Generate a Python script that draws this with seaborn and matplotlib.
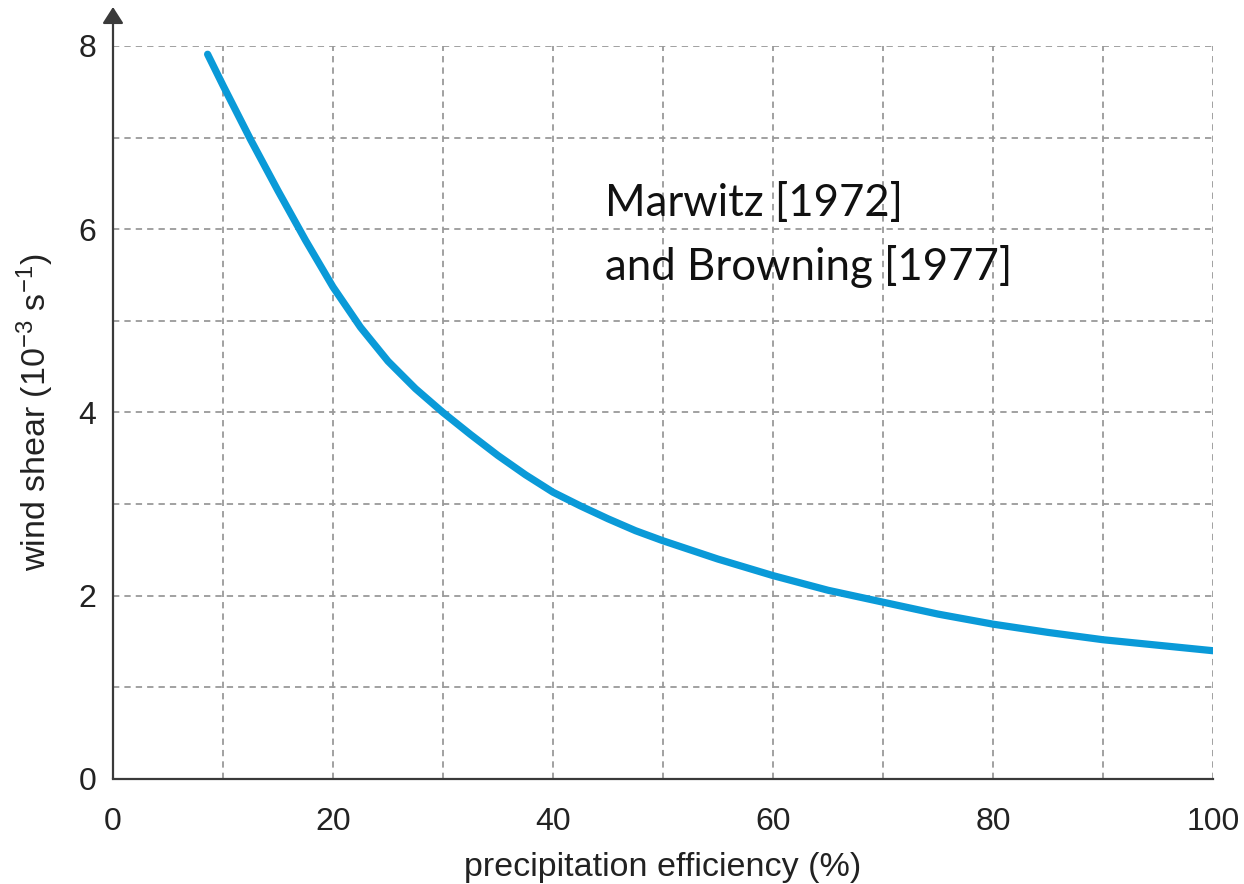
import matplotlib
matplotlib.use("Agg")
import matplotlib.pyplot as plt
from matplotlib.ticker import MultipleLocator
import seaborn as sns
import pandas as pd

# Precipitation efficiency (%) and the corresponding wind shear (10^-3 s^-1)
efficiency = [8.6, 10, 12.5, 15, 17.5, 20, 22.5, 25, 27.5, 30, 32.5, 35, 37.5, 40,
              42.5, 45, 47.5, 50, 52.5, 55, 57.5, 60, 65, 70, 75, 80, 85, 90, 95, 100]
wind_shear = [7.91, 7.57, 6.98, 6.42, 5.88, 5.37, 4.93, 4.56, 4.26, 4.00, 3.76, 3.53, 3.32, 3.13,
              2.98, 2.84, 2.71, 2.60, 2.50, 2.40, 2.31, 2.22, 2.06, 1.93, 1.80, 1.69, 1.60,
              1.52, 1.46, 1.40]

x_major = [0, 20, 40, 60, 80, 100]
y_major = [0, 2, 4, 6, 8]
source_lines = ["Marwitz [1972]", "and Browning [1977]"]

sns.set_theme(style="white")
plt.rcParams["font.family"] = ["Liberation Sans", "DejaVu Sans"]
plt.rcParams["mathtext.fontset"] = "custom"
plt.rcParams["mathtext.rm"] = "Liberation Sans"
plt.rcParams["mathtext.it"] = "Liberation Sans"

df = pd.DataFrame({"efficiency": efficiency, "wind_shear": wind_shear})

fig = plt.figure(figsize=(12.44, 8.84), dpi=100)
ax = fig.add_axes([113 / 1244, 105 / 884, 1100 / 1244, 733 / 884])

axis_col = "#3a3a3a"
grid_col = "#9a9a9a"

# dashed grid at every 10 % and every 1 unit of shear
ax.xaxis.set_major_locator(MultipleLocator(20))
ax.xaxis.set_minor_locator(MultipleLocator(10))
ax.yaxis.set_major_locator(MultipleLocator(2))
ax.yaxis.set_minor_locator(MultipleLocator(1))
ax.grid(True, which="both", color=grid_col, linestyle=(0, (3.5, 2.8)), linewidth=1.3)
ax.set_axisbelow(True)

sns.lineplot(data=df, x="efficiency", y="wind_shear", ax=ax, color="#0a9ad8",
             linewidth=5.2, solid_capstyle="round", solid_joinstyle="round", zorder=3)

ax.set_xlim(0, 100)
ax.set_ylim(0, 8)
ax.set_xticks(x_major)
ax.set_yticks(y_major)
ax.set_xticklabels([str(v) for v in x_major])
ax.set_yticklabels([str(v) for v in y_major])

for side in ["top", "right", "left"]:
    ax.spines[side].set_visible(False)
ax.spines["bottom"].set_color(axis_col)
ax.spines["bottom"].set_linewidth(1.6)

ax.tick_params(axis="both", which="both", direction="in", length=12, width=1.3,
               color=axis_col, labelsize=23, labelcolor="#222222")
ax.tick_params(axis="y", which="both", pad=12)
ax.tick_params(axis="x", which="both", pad=20)

# y axis drawn as an arrow extending above the plot
ax.annotate("", xy=(0, 1 + 39 / 733), xytext=(0, 0), xycoords="axes fraction",
            textcoords="axes fraction",
            arrowprops=dict(arrowstyle="-|>,head_length=0.5,head_width=0.32",
                            color=axis_col, lw=1.6, mutation_scale=20,
                            shrinkA=0, shrinkB=0),
            annotation_clip=False)

ax.set_xlabel("precipitation efficiency (%)", fontsize=24.5, color="#222222", labelpad=11)
ax.set_ylabel("wind shear (10$^{-3}$ s$^{-1}$)", fontsize=24.5, color="#222222", labelpad=16)

ax.text(44.7, 6.14, source_lines[0], fontsize=31.5, family=["Lato", "DejaVu Sans"],
        color="#111111", ha="left", va="baseline")
ax.text(44.7, 5.45, source_lines[1], fontsize=31.5, family=["Lato", "DejaVu Sans"],
        color="#111111", ha="left", va="baseline")

fig.savefig("out.png", dpi=100)
